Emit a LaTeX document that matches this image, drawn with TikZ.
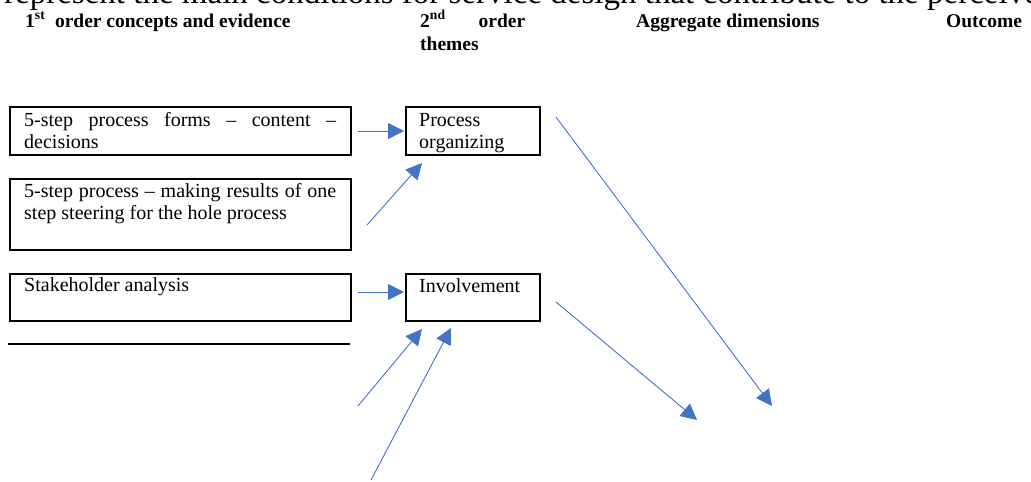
\documentclass[tikz,border=0pt]{standalone}
\usepackage{fontspec}
\setmainfont{Liberation Serif}
\usetikzlibrary{arrows.meta}
\definecolor{arrowblue}{HTML}{4472C4}
\begin{document}
\begin{tikzpicture}[x=1pt,y=-1pt,
  box/.style={draw=black, line width=1.6pt, inner sep=0pt, anchor=north west},
  boxtext/.style={anchor=base west, inner sep=0pt, font=\fontsize{20}{22}\selectfont,
    execute at begin node={\hyphenpenalty=10000\relax\tolerance=10000\relax}},
  head/.style={anchor=base west, inner sep=0pt, font=\fontsize{19.5}{23}\selectfont\bfseries},
  link/.style={draw=arrowblue, line width=0.9pt, -{Triangle[length=16pt,width=16pt]}}]
\useasboundingbox (0,0) rectangle (1031,482);
\begin{scope}
\clip (0,0) rectangle (1031,482);
\node[anchor=base west, inner sep=0pt, font=\fontsize{33}{38}\selectfont] (toptext) at (4,3.5) {represent the main conditions for service design that contribute to the perceived};
\end{scope}
% headers
\node[head] (h1) at (25,27) {1\textsuperscript{st}\hspace{0.5em}order concepts and evidence};
\node[head, text width=110pt, align=left] (h2) at (420,27) {\makebox[105pt][l]{2\textsuperscript{nd}\hfill order}\\themes};
\node[head] (h3) at (636,27) {Aggregate dimensions};
\node[head] (h4) at (946,27) {Outcome};
% boxes
\node[box, minimum width=341pt, minimum height=48pt] (b1) at (9,106) {};
\node[box, minimum width=341pt, minimum height=71pt] (b2) at (9,178) {};
\node[box, minimum width=341pt, minimum height=47pt] (b3) at (9,273) {};
\node[box, minimum width=134pt, minimum height=48pt] (po) at (405,106) {};
\node[box, minimum width=134pt, minimum height=47pt] (inv) at (405,273) {};
\coordinate (l1) at (8,344);
\coordinate (l2) at (350,344);
\draw[line width=1.6pt] (l1) -- (l2);
% texts
\node[boxtext, text width=312pt, align=justify] (t1) at (24,126) {5-step process forms – content – decisions};
\node[boxtext, text width=312pt, align=justify] (t2) at (24,197) {5-step process – making results of one step steering for the hole process};
\node[boxtext, text width=312pt, align=justify] (t3) at (24,291) {Stakeholder analysis};
\node[boxtext, text width=110pt, align=left] (tpo) at (419,126) {Process\\organizing};
\node[boxtext] (tinv) at (419,292) {Involvement};
% arrow end points
\coordinate (a1s) at (358,131); \coordinate (a1e) at (404,131);
\coordinate (a2s) at (367,225); \coordinate (a2e) at (422,163);
\coordinate (a3s) at (358,292); \coordinate (a3e) at (404,292);
\coordinate (a4s) at (358,406); \coordinate (a4e) at (422,329);
\coordinate (a5s) at (371,480); \coordinate (a5e) at (451,328);
\coordinate (a6s) at (556,302); \coordinate (a6e) at (697,420);
\coordinate (a7s) at (556,117); \coordinate (a7e) at (772,406);
\draw[link] (a1s) -- (a1e);
\draw[link] (a2s) -- (a2e);
\draw[link] (a3s) -- (a3e);
\draw[link] (a4s) -- (a4e);
\draw[link] (a5s) -- (a5e);
\draw[link] (a6s) -- (a6e);
\draw[link] (a7s) -- (a7e);
\end{tikzpicture}
\end{document}
